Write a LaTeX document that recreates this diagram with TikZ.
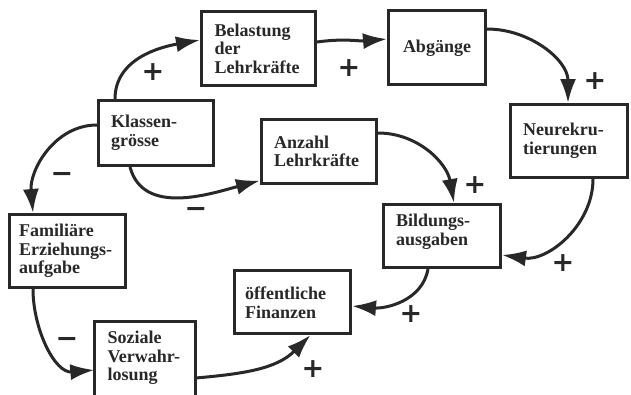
\documentclass[tikz,border=0pt]{standalone}
\usepackage{fontspec}
\setmainfont{Liberation Serif}
\newfontfamily\signfont{DejaVu Sans}
\usetikzlibrary{arrows.meta}
\definecolor{ink}{RGB}{40,40,40}
\tikzset{
  box/.style={draw=ink, line width=3pt, inner sep=0pt},
  boxline/.style={draw=ink, line width=3pt},
  lbl/.style={inner sep=0pt, align=left, text=ink, anchor=west,
    font=\bfseries\fontsize{18}{18.6}\selectfont},
  arr/.style={draw=ink, line width=3pt, -{Latex[length=24pt,width=16pt]}},
  sgn/.style={inner sep=0pt, text=ink, font=\signfont\bfseries\fontsize{27}{27}\selectfont}
}
\begin{document}
\begin{tikzpicture}[x=1pt,y=-1pt]
\useasboundingbox (0,0) rectangle (631,394);
\clip (0,0) rectangle (631,394);
\fill[white] (0,0) rectangle (631,394);
% boxes
\node[box, minimum width=114pt, minimum height=74pt] (bel) at (258.5,48.5) {};
\node[box, minimum width=97pt, minimum height=74pt] (abg) at (437,47.5) {};
\node[box, minimum width=115pt, minimum height=65pt] (kla) at (156,133) {};
\node[box, minimum width=115pt, minimum height=64pt] (anz) at (319,151.5) {};
\node[box, minimum width=117pt, minimum height=73pt] (neu) at (569,141) {};
\node[box, minimum width=116pt, minimum height=73pt] (fam) at (67.5,251) {};
\node[box, minimum width=116pt, minimum height=63pt] (oef) at (292.5,302) {};
\node[box, minimum width=117pt, minimum height=63pt] (bil) at (442,236) {};
\node[inner sep=0pt, minimum width=101pt, minimum height=73pt] (soz) at (145,358) {};
\draw[boxline] ([yshift=-30pt]soz.south west) -- (soz.north west) -- (soz.north east) -- ([yshift=-30pt]soz.south east);
% labels
\node[lbl] (bel-t) at ([xshift=14.5pt]bel.west) {Belastung\\der\\Lehrkräfte};
\node[lbl, anchor=center] (abg-t) at ([yshift=-1pt]abg.center) {Abgänge};
\node[lbl] (kla-t) at ([xshift=14pt]kla.west) {Klassen-\\grösse};
\node[lbl] (anz-t) at ([xshift=14pt]anz.west) {Anzahl\\Lehrkräfte};
\node[lbl] (neu-t) at ([xshift=14pt]neu.west) {Neurekru-\\tierungen};
\node[lbl] (fam-t) at ([xshift=11pt]fam.west) {Familiäre\\Erziehungs-\\aufgabe};
\node[lbl] (oef-t) at ([xshift=12pt,yshift=-1pt]oef.west) {öffentliche\\Finanzen};
\node[lbl] (bil-t) at ([xshift=14pt,yshift=4pt]bil.west) {Bildungs-\\ausgaben};
\node[lbl] (soz-t) at ([xshift=13pt]soz.west) {Soziale\\Verwahr-\\losung};
% connectors
\draw[arr] ([xshift=-41pt]kla.north) to[out=90,in=190] ([yshift=8.5pt]bel.west);
\draw[arr] ([yshift=6.5pt]bel.east) to[out=8,in=185] ([yshift=8.5pt]abg.west);
\draw[arr] ([yshift=18.5pt]abg.east) to[out=0,in=90] ([xshift=-1pt]neu.north);
\draw[arr] ([xshift=24pt]neu.south) to[out=-90,in=-8] ([yshift=-19pt]bil.east);
\draw[arr] ([yshift=18.5pt]anz.east) to[out=0,in=100] ([xshift=12pt]bil.north);
\draw[arr] ([xshift=-26pt]kla.south) to[out=-75,in=195] ([yshift=-29pt]anz.west);
\draw[arr] ([yshift=8pt]kla.west) to[out=180,in=95] ([xshift=-34.5pt]fam.north);
\draw[arr] ([xshift=-34.5pt]fam.south) to[out=-90,in=185] ([yshift=-12pt]soz.west);
\draw[arr] ([yshift=-20pt]soz.east) to[out=5,in=225] ([xshift=18pt]oef.south);
\draw[arr] ([xshift=-14pt]bil.south) to[out=-100,in=-5] ([yshift=-4pt]oef.east);
% signs
\node[sgn] (s1) at (153,72) {+};
\node[sgn] (s2) at (349,68) {+};
\node[sgn] (s3) at (595,81) {+};
\node[sgn] (s4) at (563,263) {+};
\node[sgn] (s5) at (475,185) {+};
\node[sgn] (s6) at (196,212) {−};
\node[sgn] (s7) at (62,177) {−};
\node[sgn] (s8) at (67,342) {−};
\node[sgn] (s9) at (313,369) {+};
\node[sgn] (s10) at (411,314) {+};
\end{tikzpicture}
\end{document}
